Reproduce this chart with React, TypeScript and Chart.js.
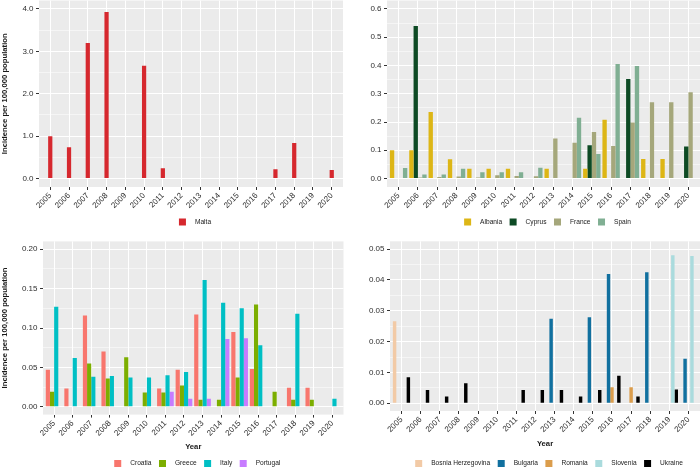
import React, { useEffect, useRef } from "react";
import { Chart, registerables } from "chart.js";

Chart.register(...registerables);

// ---------- data ----------
const years = [2005, 2006, 2007, 2008, 2009, 2010, 2011, 2012, 2013, 2014, 2015, 2016, 2017, 2018, 2019, 2020];
const yearLabels = years.map(String);

// Panel A (Malta)
const maltaNames = ["Malta"];
const malta = [1.0, 0.74, 3.2, 3.93, 0, 2.66, 0.24, 0, 0, 0, 0, 0, 0.22, 0.84, 0, 0.2];
const aMajor = [0, 1, 2, 3, 4];
const aMajorLabels = ["0.0", "1.0", "2.0", "3.0", "4.0"];
const aMinor = [0.5, 1.5, 2.5, 3.5];

// Panel B
const bNames = ["Albania", "Cyprus", "France", "Spain"];
const albania = [0.1, 0.1, 0.235, 0.068, 0.035, 0.035, 0.035, 0, 0.035, 0, 0.035, 0.208, 0, 0.069, 0.069, 0];
const cyprus = [0, 0.54, 0, 0, 0, 0, 0, 0, 0, 0, 0.118, 0, 0.352, 0, 0, 0.113];
const france = [0, 0.004, 0.005, 0.007, 0.004, 0.012, 0.009, 0.008, 0.142, 0.127, 0.165, 0.115, 0.198, 0.27, 0.27, 0.305];
const spain = [0.037, 0.014, 0.014, 0.035, 0.022, 0.022, 0.022, 0.038, 0, 0.215, 0.087, 0.405, 0.398, 0, 0, 0];
const bMajor = [0, 0.1, 0.2, 0.3, 0.4, 0.5, 0.6];
const bMajorLabels = ["0.0", "0.1", "0.2", "0.3", "0.4", "0.5", "0.6"];
const bMinor = [0.05, 0.15, 0.25, 0.35, 0.45, 0.55];

// Panel C
const cNames = ["Croatia", "Greece", "Italy", "Portugal"];
const croatia = [0.047, 0.023, 0.116, 0.07, 0, 0, 0.023, 0.047, 0.117, 0, 0.095, 0.048, 0, 0.024, 0.024, 0];
const greece = [0.019, 0, 0.055, 0.036, 0.063, 0.018, 0.018, 0.027, 0.009, 0.009, 0.037, 0.13, 0.019, 0.009, 0.009, 0];
const italy = [0.127, 0.062, 0.038, 0.039, 0.037, 0.037, 0.04, 0.044, 0.161, 0.132, 0.125, 0.078, 0, 0.118, 0, 0.01];
const portugal = [0, 0, 0, 0, 0, 0, 0.019, 0.01, 0.01, 0.086, 0.087, 0, 0, 0, 0, 0];
const cMajor = [0, 0.05, 0.1, 0.15, 0.2];
const cMajorLabels = ["0.00", "0.05", "0.10", "0.15", "0.20"];
const cMinor = [0.025, 0.075, 0.125, 0.175];

// Panel D
const dNames = ["Bosnia Herzegovina", "Bulgaria", "Romania", "Slovenia", "Ukraine"];
const bosnia = [0.0266, 0, 0, 0, 0, 0, 0, 0, 0, 0, 0, 0, 0, 0, 0, 0];
const bulgaria = [0, 0, 0, 0, 0, 0, 0, 0, 0.0274, 0, 0.0279, 0.0419, 0, 0.0425, 0, 0.0144];
const romania = [0, 0, 0, 0, 0, 0, 0, 0, 0, 0, 0, 0.0052, 0.0052, 0, 0, 0];
const slovenia = [0, 0, 0, 0, 0, 0, 0, 0, 0, 0, 0, 0, 0, 0, 0.048, 0.0477];
const ukraine = [0.0084, 0.0043, 0.0022, 0.0065, 0, 0, 0.0043, 0.0043, 0.0043, 0.0022, 0.0043, 0.0089, 0.0022, 0, 0.0045, 0];
const dMajor = [0, 0.01, 0.02, 0.03, 0.04, 0.05];
const dMajorLabels = ["0.00", "0.01", "0.02", "0.03", "0.04", "0.05"];
const dMinor = [0.005, 0.015, 0.025, 0.035, 0.045];

const Y_TITLE = "Incidence per 100,000 population";
const X_TITLE = "Year";

// ---------- styling ----------
const FONT = "'Liberation Sans', Arial, Helvetica, sans-serif";
const TICK_COLOR = "#2e2e2e";
const TICK_SIZE = 8;
const TITLE_SIZE = 7.7;
const LEGEND_SIZE = 6.6;
const W = 350;
const H = 234;

type Spec = {
  names: string[];
  series: number[][];
  colors: string[];
  yMin: number;
  yMax: number;
  major: number[];
  majorLabels: string[];
  minor: number[];
  area: { left: number; top: number; right: number; bottom: number };
  yTitle: boolean;
  xTitle: boolean;
  xTitlePad: number;
  legendY: number;
  barPct: number;
  pos: { x: number; y: number };
};

const specs: Spec[] = [
  {
    names: maltaNames,
    series: [malta],
    colors: ["#D6282E"],
    yMin: -0.2,
    yMax: 4.2,
    major: aMajor,
    majorLabels: aMajorLabels,
    minor: aMinor,
    area: { left: 39, top: 0.5, right: 343, bottom: 187 },
    yTitle: true,
    xTitle: false,
    xTitlePad: 0,
    legendY: 222,
    barPct: 0.25,
    pos: { x: 0, y: 0 },
  },
  {
    names: bNames,
    series: [albania, cyprus, france, spain],
    colors: ["#DDB616", "#0D4A24", "#A5A77B", "#80AF93"],
    yMin: -0.03,
    yMax: 0.63,
    major: bMajor,
    majorLabels: bMajorLabels,
    minor: bMinor,
    area: { left: 37, top: 0.5, right: 350, bottom: 187 },
    yTitle: false,
    xTitle: false,
    xTitlePad: 0,
    legendY: 222,
    barPct: 1,
    pos: { x: 350, y: 0 },
  },
  {
    names: cNames,
    series: [croatia, greece, italy, portugal],
    colors: ["#F8766D", "#7CAE00", "#00BFC4", "#C77CFF"],
    yMin: -0.01,
    yMax: 0.21,
    major: cMajor,
    majorLabels: cMajorLabels,
    minor: cMinor,
    area: { left: 43, top: 7.4, right: 343.5, bottom: 180.6 },
    yTitle: true,
    xTitle: true,
    xTitlePad: 2.5,
    legendY: 229.5,
    barPct: 1,
    pos: { x: 0, y: 234 },
  },
  {
    names: dNames,
    series: [bosnia, bulgaria, romania, slovenia, ukraine],
    colors: ["#F2CAA6", "#11709F", "#DB9D4C", "#AADBDD", "#000000"],
    yMin: -0.0025,
    yMax: 0.0525,
    major: dMajor,
    majorLabels: dMajorLabels,
    minor: dMinor,
    area: { left: 40, top: 7.3, right: 350, bottom: 177 },
    yTitle: false,
    xTitle: true,
    xTitlePad: 5.5,
    legendY: 229.5,
    barPct: 1,
    pos: { x: 350, y: 234 },
  },
];

function Panel({ spec }: { spec: Spec }) {
  const ref = useRef<HTMLCanvasElement | null>(null);

  useEffect(() => {
    const canvas = ref.current;
    if (!canvas) return;
    const a = spec.area;
    const LEG_PAD = 14;

    const bgPlugin = {
      id: "panelBg",
      beforeDraw(chart: any) {
        const { ctx, chartArea: c } = chart;
        ctx.save();
        ctx.fillStyle = "#EBEBEB";
        ctx.fillRect(c.left, c.top, c.right - c.left, c.bottom - c.top);
        ctx.restore();
      },
    };

    const legendPlugin = {
      id: "ggLegend",
      afterDraw(chart: any) {
        const ctx = chart.ctx;
        ctx.save();
        ctx.font = `${LEGEND_SIZE}px ${FONT}`;
        const key = 7;
        const gapKT = 9;
        const gapItem = 7.5;
        const ds = chart.data.datasets;
        const widths = ds.map((d: any) => ctx.measureText(d.label).width);
        const total =
          widths.reduce((s: number, w: number) => s + key + gapKT + w, 0) + gapItem * (ds.length - 1);
        const c = chart.chartArea;
        let x = (c.left + c.right) / 2 + 4 - total / 2;
        const y = spec.legendY;
        ds.forEach((d: any, i: number) => {
          ctx.fillStyle = d.backgroundColor;
          ctx.fillRect(x, y - key / 2, key, key);
          ctx.fillStyle = "#1a1a1a";
          ctx.textBaseline = "middle";
          ctx.textAlign = "left";
          ctx.fillText(d.label, x + key + gapKT, y);
          x += key + gapKT + widths[i] + gapItem;
        });
        ctx.restore();
      },
    };

    const yTicks = [
      ...spec.major.map((v) => ({ value: v, minor: false })),
      ...spec.minor.map((v) => ({ value: v, minor: true })),
    ].sort((p, q) => p.value - q.value);

    const chart = new Chart(canvas, {
      type: "bar",
      data: {
        labels: years,
        datasets: spec.series.map((s, i) => ({
          label: spec.names[i],
          data: s,
          backgroundColor: spec.colors[i],
          borderWidth: 0,
          categoryPercentage: 0.9,
          barPercentage: spec.barPct,
        })),
      },
      options: {
        animation: false,
        responsive: false,
        events: [],
        layout: { padding: { left: 0, top: a.top, right: W - a.right, bottom: LEG_PAD } },
        plugins: { legend: { display: false }, tooltip: { enabled: false } },
        scales: {
          x: {
            type: "linear",
            min: years[0] - 0.6,
            max: years[years.length - 1] + 0.6,
            offset: false,
            afterBuildTicks: (s: any) => {
              s.ticks = years.map((v) => ({ value: v }));
            },
            afterFit: (s: any) => {
              s.height = H - LEG_PAD - a.bottom;
              s.paddingLeft = 0;
              s.paddingRight = 0;
            },
            grid: {
              offset: false,
              color: "#FFFFFF",
              lineWidth: 1,
              drawTicks: true,
              tickLength: 3,
              tickColor: "#333333",
              tickWidth: 1,
            },
            border: { display: false },
            ticks: {
              autoSkip: false,
              minRotation: 45,
              maxRotation: 45,
              padding: 1,
              color: TICK_COLOR,
              font: { family: FONT, size: TICK_SIZE },
              callback: (_v: any, i: number) => yearLabels[i],
            },
            title: {
              display: spec.xTitle,
              text: X_TITLE,
              color: "#1a1a1a",
              font: { family: FONT, size: TITLE_SIZE, weight: "bold" },
              padding: { top: 0, bottom: spec.xTitlePad },
            },
          },
          y: {
            type: "linear",
            min: spec.yMin,
            max: spec.yMax,
            afterBuildTicks: (s: any) => {
              s.ticks = yTicks.map((t) => ({ ...t }));
            },
            afterFit: (s: any) => {
              s.width = a.left;
              s.paddingTop = 0;
              s.paddingBottom = 0;
            },
            grid: {
              color: "#FFFFFF",
              lineWidth: (ctx: any) => (ctx.tick && ctx.tick.minor ? 0.5 : 1),
              drawTicks: true,
              tickLength: 3,
              tickWidth: 1,
              tickColor: (ctx: any) => (ctx.tick && ctx.tick.minor ? "rgba(0,0,0,0)" : "#333333"),
            },
            border: { display: false },
            ticks: {
              autoSkip: false,
              padding: 2.5,
              color: TICK_COLOR,
              font: { family: FONT, size: TICK_SIZE },
              callback: (v: any, i: number, ticks: any[]) => {
                if (ticks[i] && ticks[i].minor) return "";
                const k = spec.major.indexOf(v);
                return k >= 0 ? spec.majorLabels[k] : "";
              },
            },
            title: {
              display: spec.yTitle,
              text: Y_TITLE,
              color: "#1a1a1a",
              font: { family: FONT, size: TITLE_SIZE, weight: "bold" },
              padding: { top: 0.4, bottom: 0 },
            },
          },
        },
      } as any,
      plugins: [bgPlugin, legendPlugin],
    });

    return () => {
      chart.destroy();
    };
  }, [spec]);

  return (
    <canvas
      ref={ref}
      width={W}
      height={H}
      style={{ position: "absolute", left: spec.pos.x, top: spec.pos.y, width: W, height: H }}
    />
  );
}

export default function App() {
  return (
    <div style={{ position: "absolute", left: 0, top: 0, width: 700, height: 468, background: "#FFFFFF", overflow: "hidden" }}>
      {specs.map((s, i) => (
        <Panel key={i} spec={s} />
      ))}
    </div>
  );
}
